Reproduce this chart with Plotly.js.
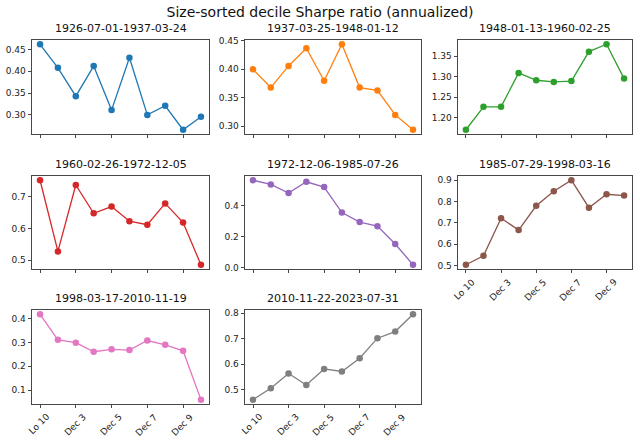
<!DOCTYPE html>
<html><head><meta charset="utf-8">
<script src="https://cdn.plot.ly/plotly-3.0.1.min.js"></script>
<style>html,body{margin:0;padding:0;background:#fff}#chart{width:640px;height:442px}</style>
</head><body><div id="chart"></div>
<script>
const categories = ['Lo 10','Dec 2','Dec 3','Dec 4','Dec 5','Dec 6','Dec 7','Dec 8','Dec 9','Hi 10'];
const shownTicks = ['Lo 10','Dec 3','Dec 5','Dec 7','Dec 9'];
const periods = ['1926-07-01-1937-03-24','1937-03-25-1948-01-12','1948-01-13-1960-02-25','1960-02-26-1972-12-05','1972-12-06-1985-07-26','1985-07-29-1998-03-16','1998-03-17-2010-11-19','2010-11-22-2023-07-31'];
const sharpe1 = [0.462,0.408,0.343,0.412,0.311,0.431,0.300,0.321,0.266,0.296];
const sharpe2 = [0.400,0.368,0.406,0.437,0.380,0.444,0.368,0.363,0.320,0.294];
const sharpe3 = [1.170,1.226,1.226,1.309,1.291,1.287,1.289,1.361,1.379,1.295];
const sharpe4 = [0.752,0.528,0.737,0.648,0.669,0.623,0.612,0.679,0.619,0.486];
const sharpe5 = [0.562,0.535,0.480,0.552,0.518,0.354,0.293,0.267,0.152,0.019];
const sharpe6 = [0.503,0.545,0.722,0.666,0.780,0.848,0.900,0.771,0.834,0.828];
const sharpe7 = [0.418,0.311,0.299,0.261,0.271,0.268,0.308,0.290,0.265,0.060];
const sharpe8 = [0.460,0.505,0.563,0.518,0.581,0.571,0.623,0.702,0.728,0.796];
const series = [sharpe1,sharpe2,sharpe3,sharpe4,sharpe5,sharpe6,sharpe7,sharpe8];
const colors = ['#1f77b4','#ff7f0e','#2ca02c','#d62728','#9467bd','#8c564b','#e377c2','#7f7f7f'];
const yDticks = [0.05,0.05,0.05,0.1,0.2,0.1,0.1,0.1];
const yFormats = ['.2f','.2f','.2f','.1f','.1f','.1f','.1f','.1f'];

const W = 640, H = 442;
const colPx = [[32,209],[245,421],[458,632]];
const rowPx = [[40,134],[176,269],[310,404]];
const showXLabels = [false,false,false,false,false,true,true,true];

const traces = [], annotations = [];
const layout = {
  width: W, height: H,
  margin: {l:0,r:0,t:0,b:0},
  paper_bgcolor:'#fff', plot_bgcolor:'#fff',
  showlegend:false,
  font:{family:'DejaVu Sans', size:9, color:'#222'},
  title:{text:'Size-sorted decile Sharpe ratio (annualized)', x:0.5, xanchor:'center', y:1-12.5/H, yanchor:'middle', font:{family:'DejaVu Sans', size:14, color:'#111'}},
  annotations: annotations
};
const n = categories.length;
series.forEach((vals, i) => {
  const r = Math.floor(i/3), c = i%3;
  const k = i+1;
  const sx = (k===1?'':k);
  const xa = 'xaxis'+sx, ya = 'yaxis'+sx;
  const mn = Math.min(...vals), mx = Math.max(...vals), sp = mx-mn;
  traces.push({x:categories, y:vals, type:'scatter', mode:'lines+markers',
    xaxis:'x'+sx, yaxis:'y'+sx,
    line:{color:colors[i], width:1.3}, marker:{color:colors[i], size:6.5}, hoverinfo:'skip'});
  const common = {showline:true, mirror:true, linecolor:'#333', linewidth:0.9, ticks:'outside', ticklen:3.5, tickwidth:0.9, tickcolor:'#333', showgrid:false, zeroline:false, fixedrange:true};
  layout[xa] = Object.assign({}, common, {
    domain:[colPx[c][0]/W, colPx[c][1]/W], anchor:'y'+sx,
    type:'category', categoryorder:'array', categoryarray:categories,
    range:[-0.05*(n-1), (n-1)*1.05], tickmode:'array', tickvals:shownTicks,
    showticklabels:false
  });
  layout[ya] = Object.assign({}, common, {
    domain:[1-rowPx[r][1]/H, 1-rowPx[r][0]/H], anchor:'x'+sx,
    range:[mn-0.05*sp, mx+0.05*sp], dtick:yDticks[i], tickformat:yFormats[i],
    tickfont:{size:9, family:'DejaVu Sans', color:'#222'}
  });
  annotations.push({text:periods[i], xref:'paper', yref:'paper', x:(colPx[c][0]+colPx[c][1])/2/W, y:1-rowPx[r][0]/H,
    xanchor:'center', yanchor:'bottom', yshift:3, showarrow:false, font:{family:'DejaVu Sans', size:11, color:'#111'}});
  if (showXLabels[i]) {
    shownTicks.forEach(t => {
      annotations.push({text:t, xref:'x'+sx, yref:'paper', x:t, y:1-rowPx[r][1]/H,
        xanchor:'center', yanchor:'top', yshift:-5, xshift:-1, textangle:-45, showarrow:false,
        font:{family:'DejaVu Sans', size:9, color:'#222'}});
    });
  }
});
Plotly.newPlot('chart', traces, layout, {staticPlot:true, displayModeBar:false});
</script>
</body></html>
